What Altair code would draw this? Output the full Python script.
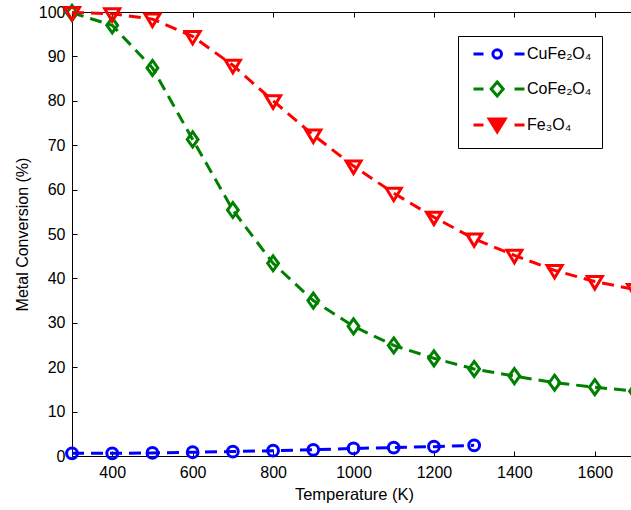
import altair as alt
import pandas as pd

# Temperatures (K) and metal conversion (%) for each oxide
temps_cu = [300, 400, 500, 600, 700, 800, 900, 1000, 1100, 1200, 1300]
conv_cu = [0.6, 0.6, 0.7, 0.85, 1.0, 1.2, 1.4, 1.7, 1.9, 2.1, 2.4]

temps_full = [300, 400, 500, 600, 700, 800, 900, 1000, 1100, 1200, 1300, 1400, 1500, 1600, 1700]
conv_co = [99.8, 97.0, 87.4, 71.3, 55.4, 43.4, 35.0, 29.2, 24.9, 22.0, 19.6, 18.0, 16.5, 15.5, 14.6]
conv_fe = [99.9, 99.6, 98.4, 94.5, 88.0, 80.0, 72.3, 65.3, 59.2, 53.8, 48.9, 45.2, 41.8, 39.3, 37.5]

series_names = ["CuFe₂O₄", "CoFe₂O₄", "Fe₃O₄"]
series_colors = ["#0000FF", "#008000", "#FF0000"]

x_ticks = [400, 600, 800, 1000, 1200, 1400, 1600]
y_ticks = [0, 10, 20, 30, 40, 50, 60, 70, 80, 90, 100]

frames = []
for name, xs, ys in [
    (series_names[0], temps_cu, conv_cu),
    (series_names[1], temps_full, conv_co),
    (series_names[2], temps_full, conv_fe),
]:
    frames.append(pd.DataFrame({"T": xs, "conv": ys, "series": name}))
df = pd.concat(frames, ignore_index=True)

# Marker outlines in pixel units (symbol size 4 -> unit of 1 px)
marker_paths = [
    "M5.4,0A5.4,5.4,0,1,1,-5.4,0A5.4,5.4,0,1,1,5.4,0Z",
    "M0,-7.5L5.4,0L0,7.5L-5.4,0Z",
    "M-7.5,-5L7.5,-5L0,7.5Z",
]

# Legend glyphs: dash, marker, dash
dashes = "M-2.5,0H7.5M38.5,0H48.5"
legend_paths = [
    dashes + "M25.5,0A4.3,4.3,0,1,1,16.9,0A4.3,4.3,0,1,1,25.5,0Z",
    dashes + "M21.2,-7L27.2,0L21.2,7L15.2,0Z",
    dashes + "M13.2,-6L29.2,-6L21.2,7Z",
]
legend_fills = ["transparent", "transparent", "#FF0000"]

FONT = "Liberation Sans"

x_scale = alt.Scale(domain=[300, 1690], nice=False, zero=False)
y_scale = alt.Scale(domain=[0, 100], nice=False)

x_bottom = alt.Axis(
    orient="bottom", values=x_ticks, offset=-5, tickSize=5, domain=False,
    labelPadding=8, labelFontSize=16, labelFont=FONT, labelColor="black",
    tickColor="black", grid=False, format="d",
    title="Temperature (K)", titleFont=FONT, titleFontSize=16.5,
    titleFontWeight="normal", titleColor="black",
    titleX=282, titleY=48, titleBaseline="alphabetic", titleAlign="center",
)
x_top = alt.Axis(
    orient="top", values=x_ticks, offset=-5, tickSize=5, domain=False,
    labels=False, tickColor="black", grid=False, title=None,
)
y_left = alt.Axis(
    orient="left", values=y_ticks, offset=-5, tickSize=5, domain=False,
    labelPadding=7, labelFontSize=16, labelFont=FONT, labelColor="black",
    tickColor="black", grid=False,
    title="Metal Conversion (%)", titleFont=FONT, titleFontSize=16,
    titleFontWeight="normal", titleColor="black",
    titleX=-50, titleY=222, titleBaseline="alphabetic", titleAlign="center",
    titleAngle=270,
)

base = alt.Chart(df)

# Dashed lines, one layer per series
line_layers = []
for i, name in enumerate(series_names):
    line_layers.append(
        base.transform_filter(alt.datum.series == name)
        .mark_line(strokeWidth=3, strokeDash=[12, 7], color=series_colors[i])
        .encode(
            x=alt.X("T:Q", scale=x_scale, axis=x_top if i == 0 else None),
            y=alt.Y("conv:Q", scale=y_scale, axis=y_left if i == 0 else None),
        )
    )

# Open markers, one layer per series
marker_layers = []
for i, name in enumerate(series_names):
    marker_layers.append(
        base.transform_filter(alt.datum.series == name)
        .mark_point(filled=False, strokeWidth=3, size=4, opacity=1,
                    shape=marker_paths[i], color=series_colors[i])
        .encode(
            x=alt.X("T:Q", scale=x_scale, axis=x_bottom if i == 0 else None),
            y=alt.Y("conv:Q", scale=y_scale, axis=None),
        )
    )

# Legend: dash-marker-dash glyph per series; the layer itself draws nothing
legend = alt.Legend(
    title=None, orient="none", legendX=386, legendY=24,
    symbolSize=4, symbolStrokeWidth=3, symbolOpacity=1, labelOffset=43,
    labelFont=FONT, labelFontSize=16, labelColor="black",
    rowPadding=11, padding=10,
    strokeColor="black", fillColor="white",
)
legend_layer = base.transform_filter("false").mark_point(filled=True, strokeWidth=3, size=4).encode(
    x=alt.X("T:Q", scale=x_scale, axis=None),
    y=alt.Y("conv:Q", scale=y_scale, axis=None),
    stroke=alt.Stroke("series:N", scale=alt.Scale(domain=series_names, range=series_colors), legend=legend),
    fill=alt.Fill("series:N", scale=alt.Scale(domain=series_names, range=legend_fills), legend=legend),
    shape=alt.Shape("series:N", scale=alt.Scale(domain=series_names, range=legend_paths), legend=legend),
)

chart = (
    alt.layer(*line_layers, *marker_layers, legend_layer)
    .resolve_axis(x="independent", y="independent")
    .properties(
        width=559, height=444,
        autosize=alt.AutoSizeParams(type="none"),
        padding={"left": 72, "top": 12, "right": 0, "bottom": 54},
        background="white",
    )
    .configure_view(stroke="black", strokeWidth=1)
    .configure_legend(labelFont=FONT, labelFontSize=16, labelColor="black", labelLimit=0)
)

chart.save("out.html", embed_options={"renderer": "svg", "actions": False})
